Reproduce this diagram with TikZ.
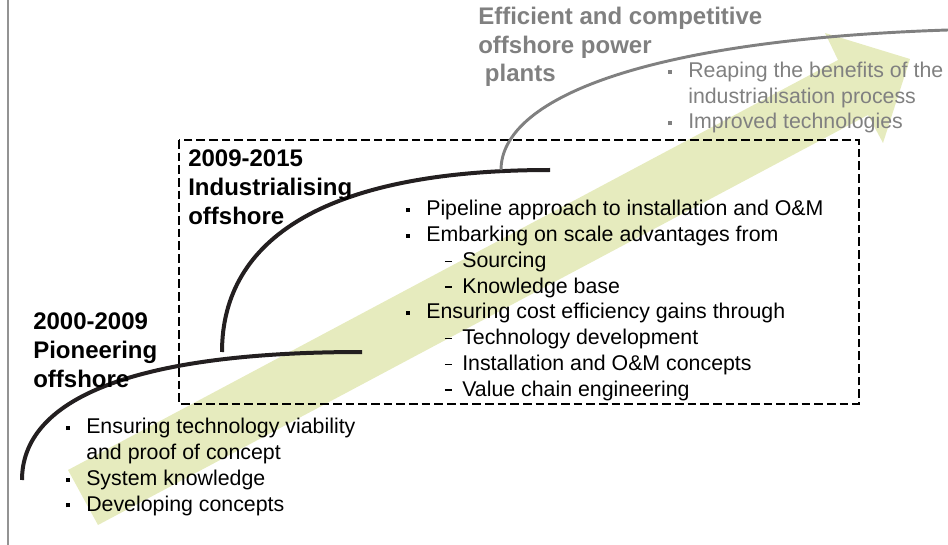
\documentclass[tikz,border=0pt]{standalone}
\usepackage{fontspec}
\setmainfont{Liberation Sans}
\usepackage{tikz}

\definecolor{arrowgreen}{RGB}{230,235,190}
\definecolor{curveblack}{RGB}{35,31,32}
\definecolor{textgrey}{RGB}{128,128,128}

\newcommand{\sqb}{\makebox[15pt][l]{\rule[2.8pt]{3pt}{3pt}}}
\newcommand{\subdash}{\hspace*{29pt}\makebox[13pt][l]{\rule[3.9pt]{5.5pt}{1.1pt}}}
\newcommand{\cont}{\hspace*{15pt}}

\tikzset{
  phase/.style={anchor=base west, align=left, inner sep=0pt,
                font=\fontsize{18}{21.4}\selectfont\bfseries},
  items/.style={anchor=base west, align=left, inner sep=0pt,
                font=\fontsize{16}{19.3}\selectfont},
  curve/.style={line width=3pt, color=curveblack},
}

\begin{document}
\begin{tikzpicture}[x=0.75pt, y=-0.75pt]

  \useasboundingbox (0,0) rectangle (948,545);

  \draw[line width=1.6pt, color=textgrey!85] (8,0) -- (8,545);

  % big arrow behind everything
  \fill[arrowgreen] (68,470) -- (838,60) -- (825,33) -- (910,59)
                    -- (883,143) -- (868,115) -- (98,525) -- cycle;

  \draw[dash pattern=on 6.5pt off 3pt, line width=2.1pt] (179,140) rectangle (859,404);

  \coordinate (pio-a) at (22,480);
  \coordinate (pio-b) at (362,352);
  \coordinate (ind-a) at (222,352);
  \coordinate (ind-b) at (550,170);
  \coordinate (eff-a) at (501,170);
  \coordinate (eff-b) at (948,30);

  \draw[curve] (pio-a) .. controls +(0,-80) and +(-232,0) .. (pio-b);
  \draw[curve] (ind-a) .. controls +(0,-114) and +(-223,0) .. (ind-b);
  \draw[curve, line width=2.2pt, color=textgrey] (eff-a) .. controls +(0,-70) and +(-308,10) .. (eff-b);

  % multi-line nodes sit on the baseline of their last line
  \node[phase] (pio) at (33,387) {2000-2009\\Pioneering\\offshore};
  \node[phase] (ind) at (188,224) {2009-2015\\Industrialising\\offshore};
  \node[phase, text=textgrey] (eff) at (478,82)
       {Efficient and competitive\\offshore power\\\hspace*{5pt}plants};

  \node[items] (pio-list) at (66,511)
       {\sqb Ensuring technology viability\\
        \cont and proof of concept\\
        \sqb System knowledge\\
        \sqb Developing concepts};

  \node[items] (ind-list) at (406,396)
       {\sqb Pipeline approach to installation and O\&M\\
        \sqb Embarking on scale advantages from\\
        \subdash Sourcing\\
        \subdash Knowledge base\\
        \sqb Ensuring cost efficiency gains through\\
        \subdash Technology development\\
        \subdash Installation and O\&M concepts\\
        \subdash Value chain engineering};

  \node[items, text=textgrey] (eff-list) at (668,129)
       {\sqb Reaping the benefits of the\\
        \cont industrialisation process\\
        \sqb Improved technologies};

\end{tikzpicture}
\end{document}
